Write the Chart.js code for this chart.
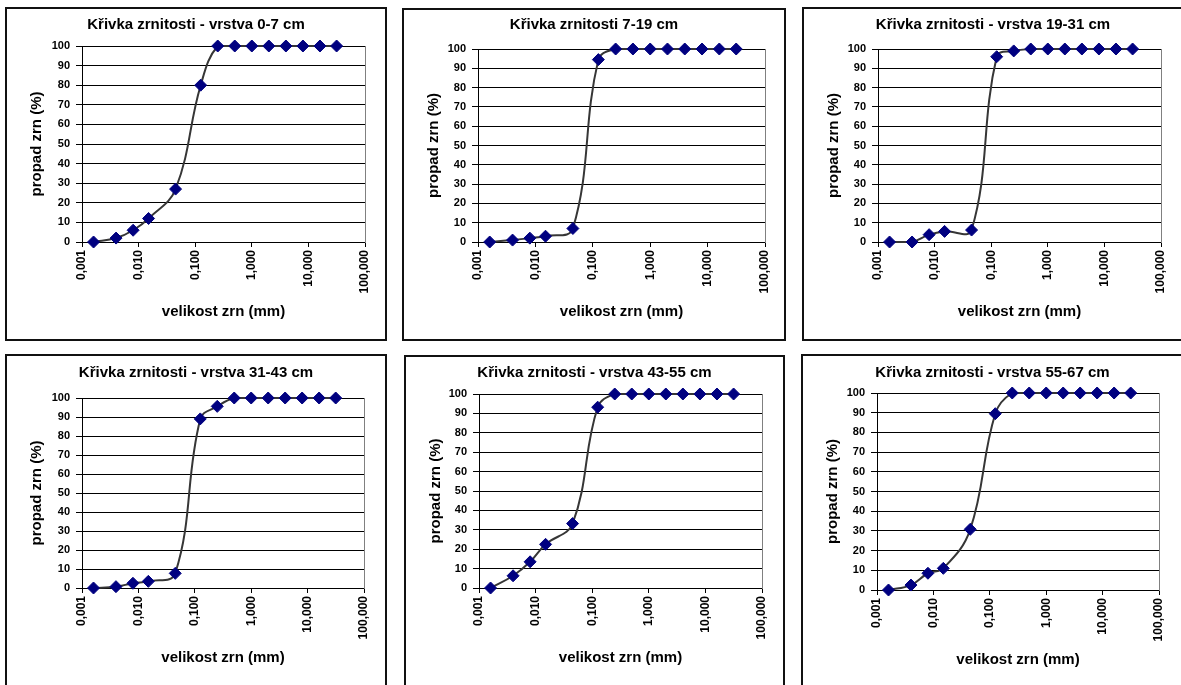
<!DOCTYPE html>
<html>
<head>
<meta charset="utf-8">
<script src="https://cdn.jsdelivr.net/npm/chart.js@4.4.0/dist/chart.umd.min.js"></script>
<style>
  body { margin: 0; width: 1181px; height: 685px; overflow: hidden; background: #fff; position: relative; }
  .box { position: absolute; box-sizing: border-box; border: 2px solid #111; }
  canvas { position: absolute; }
</style>
</head>
<body>
<script>
// grain sizes (mm)
const sizes = [0.0016, 0.004, 0.008, 0.015, 0.045, 0.125, 0.25, 0.5, 1, 2, 4, 8, 16, 31.5];

// passing (%) per layer
const layer0_7   = [0, 2, 6, 12, 27, 80, 100, 100, 100, 100, 100, 100, 100, 100];
const layer7_19  = [0, 1, 2, 3, 7, 94.5, 100, 100, 100, 100, 100, 100, 100, 100];
const layer19_31 = [0, 0, 3.8, 5.5, 6.2, 96, 99, 100, 100, 100, 100, 100, 100, 100];
const layer31_43 = [0, 0.7, 2.5, 3.5, 7.7, 89, 95.6, 100, 100, 100, 100, 100, 100, 100];
const layer43_55 = [0, 6.3, 13.5, 22.5, 33.2, 93.2, 100, 100, 100, 100, 100, 100, 100, 100];
const layer55_67 = [0, 2.5, 8.5, 11, 30.8, 89.5, 100, 100, 100, 100, 100, 100, 100, 100];

const titles = [
  'Křivka zrnitosti - vrstva 0-7 cm',
  'Křivka zrnitosti 7-19 cm',
  'Křivka zrnitosti - vrstva 19-31 cm',
  'Křivka zrnitosti - vrstva 31-43 cm',
  'Křivka zrnitosti - vrstva 43-55 cm',
  'Křivka zrnitosti - vrstva 55-67 cm'
];
const series = [layer0_7, layer7_19, layer19_31, layer31_43, layer43_55, layer55_67];

const xTicks = [0.001, 0.01, 0.1, 1, 10, 100];
const xTitle = 'velikost zrn (mm)';
const yTitle = 'propad zrn (%)';

// page placement of each chart frame and its plot area
const frames = [
  { x: 5,   y: 7,   w: 382, h: 334, l: 82,  r: 365,  t: 46,  b: 242, ty: 25,  xty: 312 },
  { x: 402, y: 8,   w: 384, h: 333, l: 478, r: 765,  t: 49,  b: 242, ty: 25,  xty: 312 },
  { x: 802, y: 7,   w: 382, h: 334, l: 878, r: 1161, t: 49,  b: 242, ty: 25,  xty: 312 },
  { x: 5,   y: 354, w: 382, h: 334, l: 82,  r: 364,  t: 398, b: 588, ty: 373, xty: 658 },
  { x: 404, y: 355, w: 381, h: 334, l: 479, r: 762,  t: 394, b: 588, ty: 373, xty: 658 },
  { x: 801, y: 354, w: 383, h: 334, l: 877, r: 1159, t: 393, b: 590, ty: 373, xty: 660 }
];

Chart.defaults.font.family = '"Liberation Sans", Arial, sans-serif';
Chart.defaults.font.weight = 'bold';
Chart.defaults.color = '#000';

const titleSize = 15;
const axisTitleSize = 15;
const lh = titleSize * 1.2;
const alh = axisTitleSize * 1.2;

frames.forEach((f, i) => {
  const box = document.createElement('div');
  box.className = 'box';
  box.style.left = f.x + 'px';
  box.style.top = f.y + 'px';
  box.style.width = f.w + 'px';
  box.style.height = f.h + 'px';
  document.body.appendChild(box);

  const canvas = document.createElement('canvas');
  canvas.style.left = f.x + 'px';
  canvas.style.top = f.y + 'px';
  canvas.width = f.w;
  canvas.height = f.h;
  document.body.appendChild(canvas);

  const titleTop = f.ty - f.y - lh / 2;
  const titleBottom = (f.t - f.y) - titleTop - lh;

  new Chart(canvas, {
    type: 'line',
    data: {
      datasets: [{
        data: sizes.map((s, k) => ({ x: s, y: series[i][k] })),
        borderColor: '#363636',
        borderWidth: 2,
        tension: 0.4,
        pointStyle: 'rectRot',
        pointRadius: 6,
        pointBorderWidth: 1,
        pointBackgroundColor: '#000080',
        pointBorderColor: '#000080',
        clip: false
      }]
    },
    options: {
      responsive: false,
      animation: false,
      layout: { padding: 0 },
      plugins: {
        legend: { display: false },
        tooltip: { enabled: false },
        title: {
          display: true,
          text: titles[i],
          color: '#000',
          font: { size: titleSize, weight: 'bold' },
          padding: { top: titleTop, bottom: titleBottom }
        }
      },
      scales: {
        x: {
          type: 'logarithmic',
          position: 'bottom',
          min: 0.001,
          max: 100,
          afterBuildTicks: s => { s.ticks = xTicks.map(v => ({ value: v })); },
          afterFit: s => { s.height = f.y + f.h - f.b; },
          ticks: {
            minRotation: 90,
            maxRotation: 90,
            padding: 3,
            font: { size: 12, weight: 'bold' },
            callback: v => v.toFixed(3).replace('.', ',')
          },
          grid: { drawOnChartArea: false, color: '#000', tickLength: 5 },
          border: { color: '#000', width: 1 },
          title: {
            display: true,
            text: xTitle,
            font: { size: axisTitleSize, weight: 'bold' },
            padding: { top: 0, bottom: f.y + f.h - f.xty - alh / 2 }
          }
        },
        y: {
          position: 'left',
          min: 0,
          max: 100,
          afterFit: s => { s.width = f.l - f.x; },
          ticks: { stepSize: 10, padding: 6, font: { size: 11, weight: 'bold' } },
          grid: { color: '#000', tickLength: 6 },
          border: { color: '#000', width: 1 },
          title: {
            display: true,
            text: yTitle,
            font: { size: axisTitleSize, weight: 'bold' },
            padding: { top: 32 - alh / 2, bottom: 0 }
          }
        },
        y2: {
          position: 'right',
          min: 0,
          max: 100,
          afterFit: s => { s.width = f.x + f.w - f.r; },
          ticks: { display: false },
          grid: { display: false },
          border: { color: '#808080', width: 1 }
        }
      }
    }
  });
});
</script>
</body>
</html>
